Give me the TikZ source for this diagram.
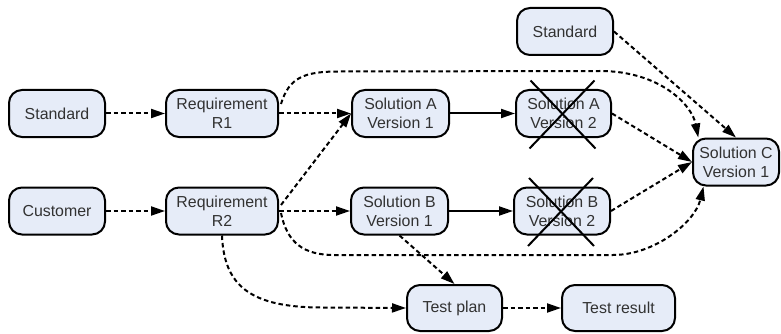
\documentclass[tikz,border=0pt]{standalone}
\usepackage{fontspec}
\setmainfont{Liberation Sans}
\usetikzlibrary{arrows.meta,calc}
\definecolor{boxfill}{RGB}{230,236,248}
\definecolor{boxtext}{RGB}{50,50,50}
\begin{document}
\begin{tikzpicture}[x=1pt,y=-1pt,
  box/.style={draw=black, line width=2pt, rounded corners=13pt, fill=boxfill,
    text=boxtext, minimum height=47pt, align=center, inner sep=0pt,
    font=\fontsize{15.9}{19}\selectfont},
  dep/.style={line width=2pt, dash pattern=on 4.5pt off 3pt,
    -{Triangle[length=14pt,width=9pt]}},
  flow/.style={line width=2pt, -{Triangle[length=14pt,width=9pt]}},
  strike/.style={line width=2pt, draw=black}]
\useasboundingbox (0,0) rectangle (781,334);

% boxes
\node[box, minimum width=96pt]  (std1) at (57,113.5)   {Standard};
\node[box, minimum width=96pt]  (cust) at (57,211)     {Customer};
\node[box, minimum width=112pt] (r1)   at (222,113.5)  {Requirement\\R1};
\node[box, minimum width=112pt] (r2)   at (222,211)    {Requirement\\R2};
\node[box, minimum width=97pt]  (sa1)  at (400.5,113.5){Solution A\\Version 1};
\node[box, minimum width=97pt]  (sb1)  at (399.5,211)  {Solution B\\Version 1};
\node[box, minimum width=95pt]  (sa2)  at (563.5,113.5){Solution A\\Version 2};
\node[box, minimum width=96pt]  (sb2)  at (562,211)    {Solution B\\Version 2};
\node[box, minimum width=86pt]  (sc)   at (736,162)    {Solution C\\Version 1};
\node[box, minimum width=96pt]  (std2) at (565,31.5)   {Standard};
\node[box, minimum width=95pt, minimum height=46pt] (tp) at (454.5,308) {Test plan};
\node[box, minimum width=113pt, minimum height=46pt] (tr) at (618.5,308) {Test result};

% discarded versions
\foreach \n in {sa2,sb2}{
  \draw[strike] ($(\n)+(-33,-33)$) -- ($(\n)+(32,35)$);
  \draw[strike] ($(\n)+(31,-33)$) -- ($(\n)+(-34,35)$);
}

% straight dependencies
\draw[dep] (std1.east) -- (r1.west);
\draw[dep] (cust.east) -- (r2.west);
\draw[dep] (r1.east) -- (sa1.west);
\draw[dep] ($(r2.east)+(2,-6)$) -- (sa1.west);
\draw[dep] (r2.east) -- (sb1.west);
\draw[flow] (sa1.east) -- (sa2.west);
\draw[flow] (sb1.east) -- (sb2.west);
\draw[dep] (sa2.east) -- (sc.west);
\draw[dep] (sb2.east) -- (sc.west);
\draw[dep] (std2.east) -- (sc.north);
\draw[dep] (sb1.south) -- (tp.north);
\draw[dep] (tp.east) -- (tr.west);

% curved dependencies
\draw[dep] ($(r1.east)+(2,-9.5)$)
  .. controls ($(r1.east)+(10,-36)$) and ($(r1.east)+(25,-42)$) .. ($(r1.east)+(60,-42)$)
  -- ($(sc)+(-136,-91)$)
  .. controls ($(sc)+(-76,-91)$) and ($(sc)+(-44,-57)$) .. (sc.147);
\draw[dep] ($(r2.east)+(2,2)$)
  .. controls ($(r2.east)+(8,32)$) and ($(r2.east)+(25,44)$) .. ($(r2.east)+(55,44)$)
  -- ($(sc)+(-123,93)$)
  .. controls ($(sc)+(-81,93)$) and ($(sc)+(-41,60)$) .. (sc.217);
\draw[dep] (r2.south)
  .. controls ($(r2.south)+(2,50)$) and ($(r2.south)+(28,72)$) .. ($(r2.south)+(100,72)$)
  -- (tp.west);
\end{tikzpicture}
\end{document}
